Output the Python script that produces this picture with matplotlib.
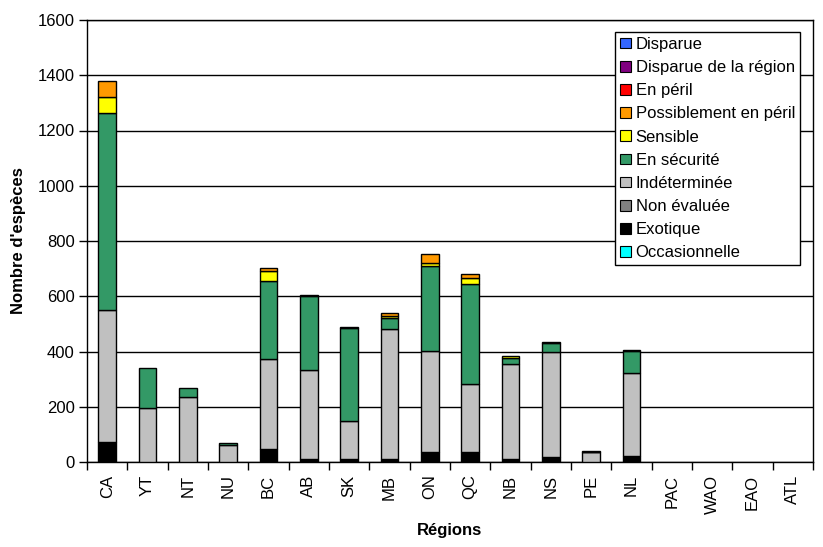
import matplotlib
matplotlib.use("Agg")
import matplotlib.pyplot as plt
import numpy as np
from matplotlib.patches import Patch

plt.rcParams['font.family'] = ['Liberation Sans', 'DejaVu Sans']

regions = ["CA", "YT", "NT", "NU", "BC", "AB", "SK", "MB", "ON", "QC",
           "NB", "NS", "PE", "NL", "PAC", "WAO", "EAO", "ATL"]

# stacking order bottom -> top
occasionnelle = [0, 0, 0, 0, 0, 0, 0, 0, 0, 0, 0, 0, 0, 0, 0, 0, 0, 0]
exotique      = [71, 0, 0, 0, 47, 10, 10, 10, 36, 36, 11, 18, 0, 22, 0, 0, 0, 0]
non_evaluee   = [0, 0, 0, 0, 0, 0, 0, 0, 0, 0, 0, 0, 0, 0, 0, 0, 0, 0]
indeterminee  = [479, 194, 236, 63, 325, 322, 137, 470, 365, 245, 343, 379, 35, 299, 0, 0, 0, 0]
en_securite   = [712, 145, 31, 7, 282, 268, 339, 42, 310, 365, 24, 35, 3, 80, 0, 0, 0, 0]
sensible      = [58, 0, 0, 0, 37, 6, 4, 6, 8, 19, 4, 4, 2, 3, 0, 0, 0, 0]
possiblement  = [60, 0, 0, 0, 10, 0, 0, 13, 33, 14, 0, 0, 0, 0, 0, 0, 0, 0]
en_peril      = [0, 0, 0, 0, 0, 0, 0, 0, 0, 0, 0, 0, 0, 0, 0, 0, 0, 0]
disparue_reg  = [0, 0, 0, 0, 0, 0, 0, 0, 0, 0, 0, 0, 0, 0, 0, 0, 0, 0]
disparue      = [0, 0, 0, 0, 0, 0, 0, 0, 0, 0, 0, 0, 0, 0, 0, 0, 0, 0]

series = [
    ("Occasionnelle", occasionnelle, "#00FFFF"),
    ("Exotique", exotique, "#000000"),
    ("Non évaluée", non_evaluee, "#808080"),
    ("Indéterminée", indeterminee, "#C0C0C0"),
    ("En sécurité", en_securite, "#339966"),
    ("Sensible", sensible, "#FFFF00"),
    ("Possiblement en péril", possiblement, "#FF9900"),
    ("En péril", en_peril, "#FF0000"),
    ("Disparue de la région", disparue_reg, "#800080"),
    ("Disparue", disparue, "#3366FF"),
]

fig = plt.figure(figsize=(8.23, 5.47), dpi=100)
ax = fig.add_axes([87/823, 1 - 462/547, 726/823, 442/547])

x = np.arange(len(regions))
bottom = np.zeros(len(regions))
for name, vals, col in series:
    v = np.array(vals, dtype=float)
    mask = v > 0
    ax.bar(x[mask], v[mask], bottom=bottom[mask], width=0.43, color=col,
           edgecolor="black", linewidth=1.0, zorder=3)
    bottom += v

ax.set_xlim(-0.5, len(regions) - 0.5)
ax.set_ylim(0, 1600)
ax.set_yticks(np.arange(0, 1601, 200))
ax.yaxis.grid(True, color="black", linewidth=1.0, zorder=0)
ax.set_axisbelow(True)

ax.set_xticks(x)
ax.set_xticklabels(regions, rotation=90, fontsize=12)
ax.set_xticks(np.arange(-0.5, len(regions) + 0.5, 1), minor=True)
ax.tick_params(axis="x", which="major", length=0, pad=9)
ax.tick_params(axis="x", which="minor", length=6, width=1, direction="out")
ax.tick_params(axis="y", length=6, width=1, direction="out", labelsize=12, pad=3)

for s in ax.spines.values():
    s.set_linewidth(1.0)
    s.set_color("black")

ax.set_ylabel("Nombre d'espèces", fontweight="bold", fontsize=12, labelpad=8)
ax.set_xlabel("Régions", fontweight="bold", fontsize=12, labelpad=7)

handles = [Patch(facecolor=col, edgecolor="black", linewidth=0.8, label=name)
           for name, vals, col in series[::-1]]
leg = ax.legend(handles=handles, loc="upper right", bbox_to_anchor=(0.982, 0.973),
                borderaxespad=0, fontsize=12, frameon=True, fancybox=False,
                edgecolor="black", framealpha=1, handlelength=0.62, handleheight=0.62,
                handletextpad=0.3, labelspacing=0.49, borderpad=0.3)
leg.get_frame().set_linewidth(1.0)
leg.set_zorder(5)

fig.savefig("out.png", dpi=100)
